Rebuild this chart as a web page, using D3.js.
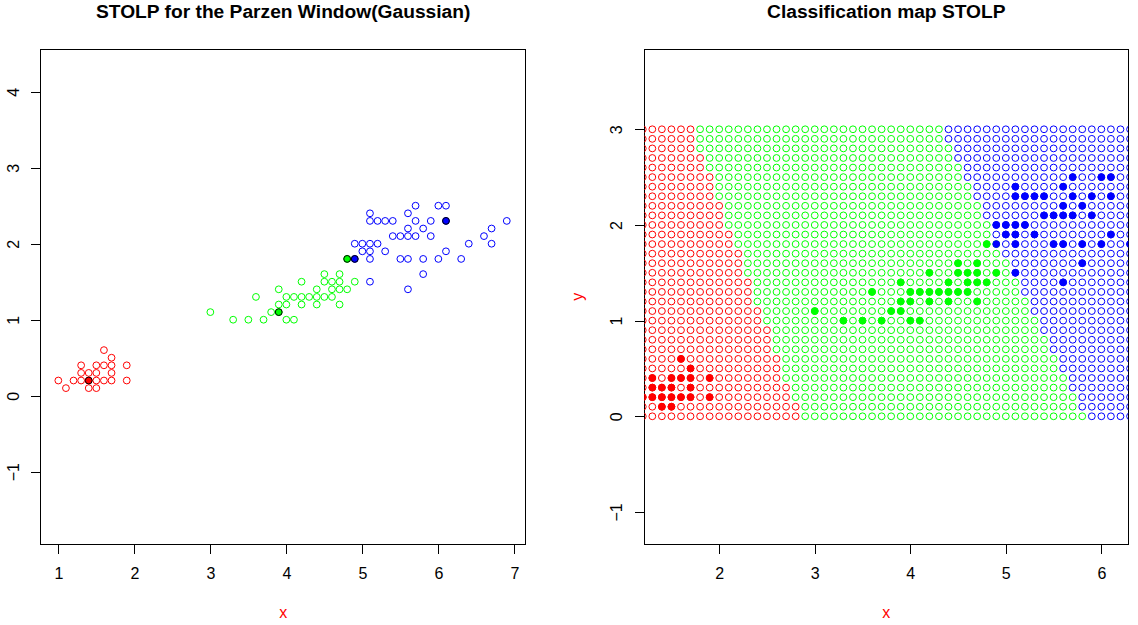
<html lang="en">

<head>
    <meta charset="UTF-8">
    <title>STOLP - Parzen Window</title>
    <script src="https://d3js.org/d3.v7.min.js"></script>
    <style>
        body { margin: 0; background: #fff; }
        text { font-family: "Liberation Sans", Arial, sans-serif; }
    </style>
</head>

<body>
    <div id="chart"></div>

    <script>
        // iris petal length / width that STOLP kept (outliers dropped)
        const setosa = [
            [1.0, 0.2], [1.1, 0.1], [1.2, 0.2], [1.3, 0.2], [1.3, 0.3], [1.3, 0.4],
            [1.4, 0.1], [1.4, 0.2], [1.4, 0.3], [1.5, 0.1], [1.5, 0.2], [1.5, 0.3],
            [1.5, 0.4], [1.6, 0.2], [1.6, 0.4], [1.6, 0.6], [1.7, 0.2], [1.7, 0.3],
            [1.7, 0.4], [1.7, 0.5], [1.9, 0.2], [1.9, 0.4]
        ];
        const versicolor = [
            [3.0, 1.1], [3.3, 1.0], [3.5, 1.0], [3.6, 1.3], [3.7, 1.0], [3.8, 1.1],
            [3.9, 1.1], [3.9, 1.2], [3.9, 1.4], [4.0, 1.0], [4.0, 1.2], [4.0, 1.3],
            [4.1, 1.0], [4.1, 1.3], [4.2, 1.2], [4.2, 1.3], [4.2, 1.5], [4.3, 1.3],
            [4.4, 1.2], [4.4, 1.3], [4.4, 1.4], [4.5, 1.3], [4.5, 1.5], [4.5, 1.6],
            [4.6, 1.3], [4.6, 1.4], [4.6, 1.5], [4.7, 1.2], [4.7, 1.4], [4.7, 1.5],
            [4.7, 1.6], [4.8, 1.4], [4.8, 1.8], [4.9, 1.5]
        ];
        const virginica = [
            [5.7, 2.5], [6.0, 2.5], [6.1, 2.5], [5.1, 2.4], [5.6, 2.4],
            [5.1, 2.3], [5.2, 2.3], [5.3, 2.3], [5.4, 2.3], [5.7, 2.3], [5.9, 2.3], [6.1, 2.3], [6.9, 2.3],
            [5.6, 2.2], [5.8, 2.2], [6.7, 2.2],
            [5.4, 2.1], [5.5, 2.1], [5.6, 2.1], [5.7, 2.1], [5.9, 2.1], [6.6, 2.1],
            [4.9, 2.0], [5.0, 2.0], [5.1, 2.0], [5.2, 2.0], [6.4, 2.0], [6.7, 2.0],
            [5.0, 1.9], [5.1, 1.9], [5.3, 1.9], [6.1, 1.9],
            [4.9, 1.8], [5.1, 1.8], [5.5, 1.8], [5.6, 1.8], [5.8, 1.8], [6.0, 1.8], [6.3, 1.8],
            [5.8, 1.6], [5.1, 1.5], [5.6, 1.4]
        ];

        // prototypes chosen by STOLP
        const protoSetosa = [[1.4, 0.2]];
        const protoVersicolor = [[3.9, 1.1], [4.8, 1.8]];
        const protoVirginica = [[4.9, 1.8], [6.1, 2.3]];

        const classColors = ["#ff0000", "#00ff00", "#0000ff"];

        // classification map, one entry per row y = 0.0 .. 3.0:
        // last column still setosa, first column already virginica
        const mapRows = [0.0, 0.1, 0.2, 0.3, 0.4, 0.5, 0.6, 0.7, 0.8, 0.9, 1.0,
            1.1, 1.2, 1.3, 1.4, 1.5, 1.6, 1.7, 1.8, 1.9, 2.0,
            2.1, 2.2, 2.3, 2.4, 2.5, 2.6, 2.7, 2.8, 2.9, 3.0];
        const lastSetosa = [2.8, 2.8, 2.7, 2.7, 2.6, 2.6, 2.6, 2.5, 2.5, 2.5, 2.4,
            2.4, 2.3, 2.3, 2.3, 2.2, 2.2, 2.2, 2.1, 2.1, 2.0,
            2.0, 2.0, 1.9, 1.9, 1.9, 1.8, 1.8, 1.7, 1.7, 1.7];
        const firstVirginica = [5.9, 5.8, 5.8, 5.7, 5.7, 5.6, 5.6, 5.5, 5.5, 5.4, 5.4,
            5.3, 5.3, 5.2, 5.2, 5.1, 5.1, 5.0, 5.0, 4.9, 4.9,
            4.8, 4.8, 4.7, 4.7, 4.6, 4.6, 4.5, 4.5, 4.4, 4.4];
        // grid lattice, step 0.1
        const mapColumns = d3.range(10, 71).map(d => d / 10);

        const leftTicksX = [1, 2, 3, 4, 5, 6, 7];
        const leftTicksY = [-1, 0, 1, 2, 3, 4];
        const rightTicksX = [2, 3, 4, 5, 6];
        const rightTicksY = [-1, 0, 1, 2, 3];

        const width = 1138;
        const height = 625;
        const R = 3.4;

        const svg = d3.select("#chart").append("svg")
            .attr("width", width)
            .attr("height", height)
            .style("background", "#fff");

        // plot frame, axes and labels, R base-graphics look
        function drawFrame(id, x, y, ticksX, ticksY, title, ylab) {
            const [x0, x1] = x.range();
            const [y1, y0] = y.range();
            const cx = (x0 + x1) / 2;

            svg.append("clipPath").attr("id", id)
                .append("rect")
                .attr("x", x0).attr("y", y0)
                .attr("width", x1 - x0).attr("height", y1 - y0);

            const ax = svg.append("g")
                .attr("transform", `translate(0,${y1})`)
                .call(d3.axisBottom(x).tickValues(ticksX).tickFormat(d3.format("d"))
                    .tickSize(9.3).tickSizeOuter(0).tickPadding(14.3));
            ax.select(".domain").remove();

            const ay = svg.append("g")
                .attr("transform", `translate(${x0},0)`)
                .call(d3.axisLeft(y).tickValues(ticksY).tickFormat(d3.format("d"))
                    .tickSize(9.3).tickSizeOuter(0));
            ay.select(".domain").remove();
            ay.selectAll("text")
                .attr("x", null).attr("dy", null)
                .attr("text-anchor", "middle")
                .attr("transform", "translate(-22,0) rotate(-90)");

            [ax, ay].forEach(a => {
                a.attr("font-family", null).attr("font-size", 16);
                a.selectAll("line").attr("stroke", "#000").attr("shape-rendering", "crispEdges");
                a.selectAll("text").attr("fill", "#000");
            });

            svg.append("rect")
                .attr("x", x0).attr("y", y0)
                .attr("width", x1 - x0).attr("height", y1 - y0)
                .attr("fill", "none").attr("stroke", "#000")
                .attr("shape-rendering", "crispEdges");

            svg.append("text")
                .attr("x", cx).attr("y", 18)
                .attr("text-anchor", "middle")
                .style("font-size", "19.2px").style("font-weight", "bold")
                .text(title);

            svg.append("text")
                .attr("x", cx).attr("y", 617.5)
                .attr("text-anchor", "middle")
                .style("font-size", "16px").attr("fill", "#ff0000")
                .text("x");

            if (ylab) {
                svg.append("text")
                    .attr("transform", `translate(${x0 - 61.8},${(y0 + y1) / 2}) rotate(-90)`)
                    .attr("text-anchor", "middle")
                    .style("font-size", "16px").attr("fill", "#ff0000")
                    .text(ylab);
            }

            return svg.append("g").attr("clip-path", `url(#${id})`);
        }

        // ---- left: training sample with prototypes
        const xL = d3.scaleLinear().domain([0.768, 7.149]).range([40.7, 525.7]);
        const yL = d3.scaleLinear().domain([-1.955, 4.558]).range([544.3, 49.3]);
        const left = drawFrame("clipL", xL, yL, leftTicksX, leftTicksY,
            "STOLP for the Parzen Window(Gaussian)", null);

        [setosa, versicolor, virginica].forEach((pts, k) => {
            left.append("g").selectAll("circle")
                .data(pts)
                .join("circle")
                .attr("cx", d => xL(d[0]))
                .attr("cy", d => yL(d[1]))
                .attr("r", R)
                .attr("fill", "none")
                .attr("stroke", classColors[k])
                .attr("stroke-width", 1);
        });

        [protoSetosa, protoVersicolor, protoVirginica].forEach((pts, k) => {
            left.append("g").selectAll("circle")
                .data(pts)
                .join("circle")
                .attr("cx", d => xL(d[0]))
                .attr("cy", d => yL(d[1]))
                .attr("r", R)
                .attr("fill", classColors[k])
                .attr("stroke", "#000")
                .attr("stroke-width", 1);
        });

        // ---- right: classification map
        const xR = d3.scaleLinear().domain([1.216, 6.282]).range([644.3, 1128.3]);
        const yR = d3.scaleLinear().domain([-1.338, 3.836]).range([544.3, 49.3]);
        const right = drawFrame("clipR", xR, yR, rightTicksX, rightTicksY,
            "Classification map STOLP", "y");

        const cells = [];
        mapRows.forEach((yv, i) => {
            const redEnd = Math.round(lastSetosa[i] * 10);
            const blueStart = Math.round(firstVirginica[i] * 10);
            mapColumns.forEach(xv => {
                const t = Math.round(xv * 10);
                const cls = t <= redEnd ? 0 : (t >= blueStart ? 2 : 1);
                cells.push({ x: xv, y: yv, cls: cls });
            });
        });

        right.append("g").selectAll("circle")
            .data(cells)
            .join("circle")
            .attr("cx", d => xR(d.x))
            .attr("cy", d => yR(d.y))
            .attr("r", R)
            .attr("fill", "none")
            .attr("stroke", d => classColors[d.cls])
            .attr("stroke-width", 1);

        [setosa, versicolor, virginica].forEach((pts, k) => {
            right.append("g").selectAll("circle")
                .data(pts)
                .join("circle")
                .attr("cx", d => xR(d[0]))
                .attr("cy", d => yR(d[1]))
                .attr("r", R)
                .attr("fill", classColors[k])
                .attr("stroke", classColors[k])
                .attr("stroke-width", 1);
        });
    </script>
</body>

</html>
